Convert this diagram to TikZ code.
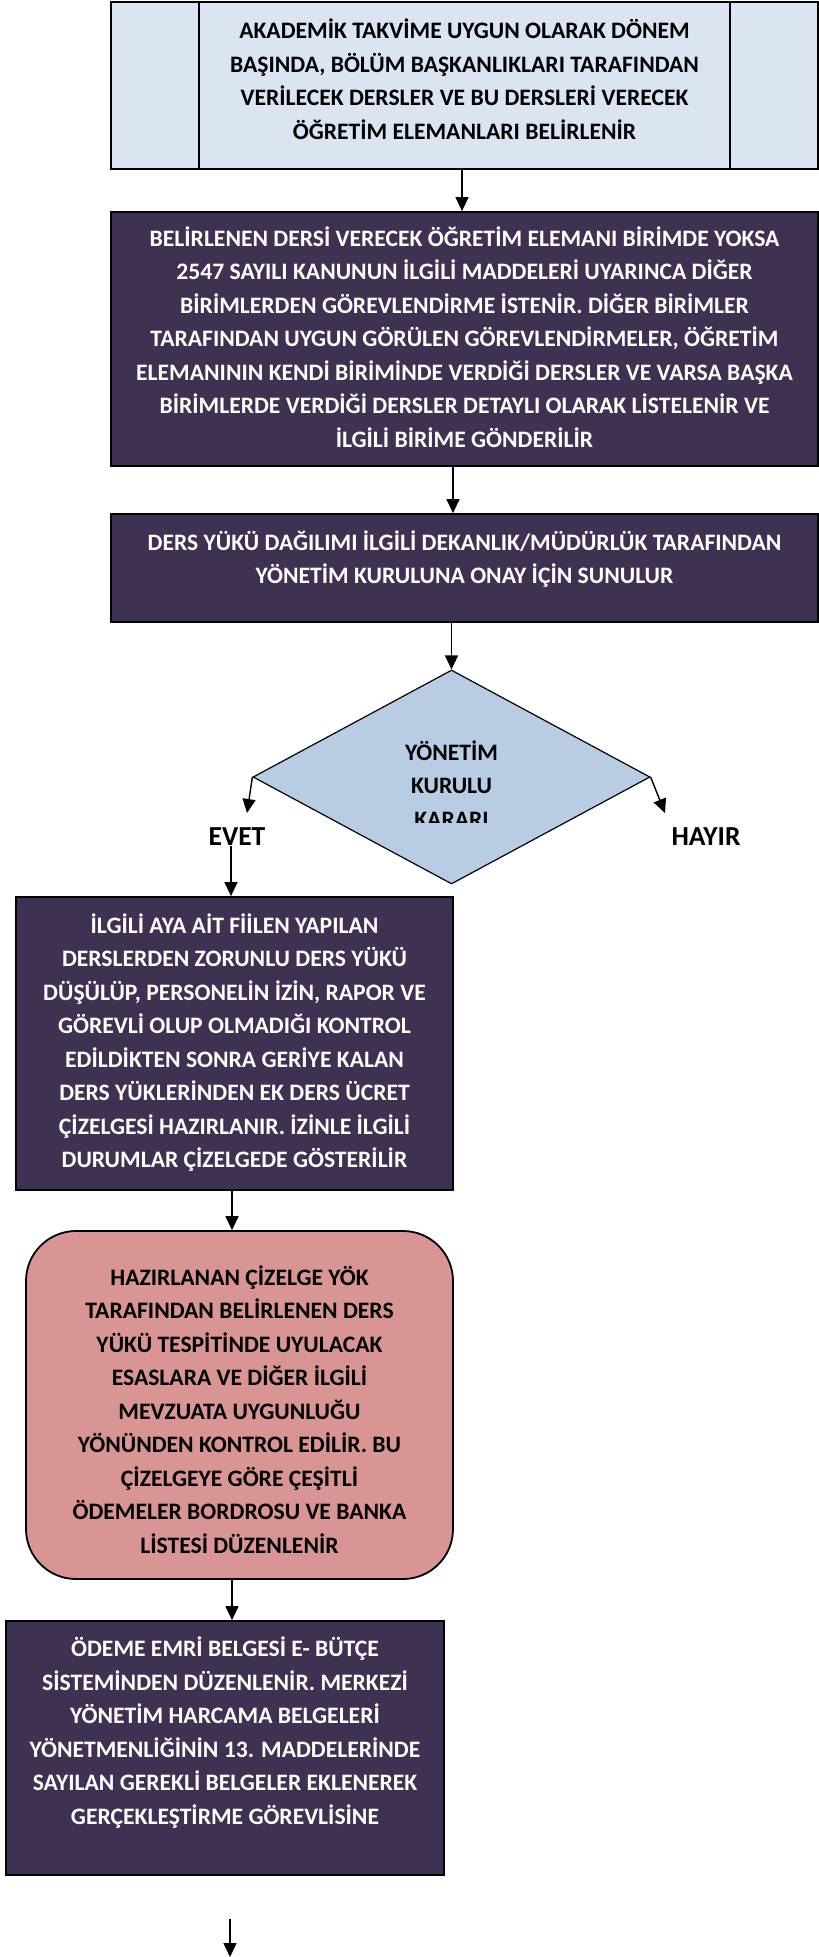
\documentclass[tikz,border=0pt]{standalone}
\usepackage{fontspec}
\setmainfont{Carlito}
\usetikzlibrary{arrows.meta,shapes.geometric}
\definecolor{plum}{HTML}{3F3151}
\definecolor{paleblue}{HTML}{DBE5F1}
\definecolor{midblue}{HTML}{B8CCE4}
\definecolor{rose}{HTML}{D99594}
\begin{document}
\begin{tikzpicture}[x=1pt,y=-1pt,
  box/.style={draw=black, line width=1.8pt, inner sep=0pt, rectangle},
  darkbox/.style={box, fill=plum},
  txt/.style={align=center, font=\fontsize{23.6pt}{33.5pt}\selectfont\bfseries, inner sep=0pt},
  wtxt/.style={txt, text=white},
  btxt/.style={txt, text=black},
  yesno/.style={font=\fontsize{27.5pt}{30pt}\selectfont\bfseries, inner sep=0pt},
  arr/.style={line width=1.4pt, -{Triangle[width=13pt,length=14pt]}},
]
\useasboundingbox (0,0) rectangle (819,1957);

% step 1: predefined process box
\node[box, fill=paleblue, minimum width=707pt, minimum height=167pt] (b1) at (464.5,85.5) {};
\draw[line width=1.5pt] ([xshift=89pt]b1.north west) -- ([xshift=89pt]b1.south west);
\draw[line width=1.5pt] ([xshift=-89pt]b1.north east) -- ([xshift=-89pt]b1.south east);
\node[btxt] (t1) at (464.5,79) {AKADEMİK TAKVİME UYGUN OLARAK DÖNEM\\BAŞINDA, BÖLÜM BAŞKANLIKLARI TARAFINDAN\\VERİLECEK DERSLER VE BU DERSLERİ VERECEK\\ÖĞRETİM ELEMANLARI BELİRLENİR};

% step 2
\node[darkbox, minimum width=707pt, minimum height=254pt] (b2) at (464.5,339) {};
\node[wtxt] (t2) at (464.5,337) {BELİRLENEN DERSİ VERECEK ÖĞRETİM ELEMANI BİRİMDE YOKSA\\2547 SAYILI KANUNUN İLGİLİ MADDELERİ UYARINCA DİĞER\\BİRİMLERDEN GÖREVLENDİRME İSTENİR. DİĞER BİRİMLER\\TARAFINDAN UYGUN GÖRÜLEN GÖREVLENDİRMELER, ÖĞRETİM\\ELEMANININ KENDİ BİRİMİNDE VERDİĞİ DERSLER VE VARSA BAŞKA\\BİRİMLERDE VERDİĞİ DERSLER DETAYLI OLARAK LİSTELENİR VE\\İLGİLİ BİRİME GÖNDERİLİR};

% step 3
\node[darkbox, minimum width=707pt, minimum height=108pt] (b3) at (464.5,568) {};
\node[wtxt] (t3) at (464.5,559) {DERS YÜKÜ DAĞILIMI İLGİLİ DEKANLIK/MÜDÜRLÜK TARAFINDAN\\YÖNETİM KURULUNA ONAY İÇİN SUNULUR};

% decision
\node[diamond, draw=black, fill=midblue, line width=1.2pt, minimum width=397pt, minimum height=214pt, inner sep=0pt] (dia) at (451.5,777) {};
\begin{scope}
  \clip (351,720) rectangle (551,822);
  \node[btxt] (dtxt) at (451.5,784) {YÖNETİM\\KURULU\\KARARI};
\end{scope}
\node[yesno] (evet) at (237,837) {EVET};
\node[yesno] (hayir) at (706,837) {HAYIR};
\coordinate (evetend) at (247,813);
\coordinate (hayirend) at (665,813);

% step 4
\node[darkbox, minimum width=437pt, minimum height=293pt] (b4) at (234.5,1043.5) {};
\node[wtxt] (t4) at (234.5,1042.5) {İLGİLİ AYA AİT FİİLEN YAPILAN\\DERSLERDEN ZORUNLU DERS YÜKÜ\\DÜŞÜLÜP, PERSONELİN İZİN, RAPOR VE\\GÖREVLİ OLUP OLMADIĞI KONTROL\\EDİLDİKTEN SONRA GERİYE KALAN\\DERS YÜKLERİNDEN EK DERS ÜCRET\\ÇİZELGESİ HAZIRLANIR. İZİNLE İLGİLİ\\DURUMLAR ÇİZELGEDE GÖSTERİLİR};

% step 5
\node[box, fill=rose, rounded corners=50pt, minimum width=427pt, minimum height=348pt] (b5) at (239.5,1405) {};
\node[btxt] (t5) at (239.5,1409.5) {HAZIRLANAN ÇİZELGE YÖK\\TARAFINDAN BELİRLENEN DERS\\YÜKÜ TESPİTİNDE UYULACAK\\ESASLARA VE DİĞER İLGİLİ\\MEVZUATA UYGUNLUĞU\\YÖNÜNDEN KONTROL EDİLİR. BU\\ÇİZELGEYE GÖRE ÇEŞİTLİ\\ÖDEMELER BORDROSU VE BANKA\\LİSTESİ DÜZENLENİR};

% step 6
\node[darkbox, minimum width=438pt, minimum height=254pt] (b6) at (225,1748) {};
\node[wtxt] (t6) at (225,1732.5) {ÖDEME EMRİ BELGESİ E- BÜTÇE\\SİSTEMİNDEN DÜZENLENİR. MERKEZİ\\YÖNETİM HARCAMA BELGELERİ\\YÖNETMENLİĞİNİN 13. MADDELERİNDE\\SAYILAN GEREKLİ BELGELER EKLENEREK\\GERÇEKLEŞTİRME GÖREVLİSİNE};

\coordinate (fa) at (230,1919);
\coordinate (fb) at (230,1957);

% connectors
\draw[arr] ([xshift=-2.5pt]b1.south) -- ([xshift=-2.5pt]b2.north);
\draw[arr] ([xshift=-11.5pt]b2.south) -- ([xshift=-11.5pt]b3.north);
\draw[arr] (b3.south -| dia.north) -- (dia.north);
\draw[arr] (dia.west) -- (evetend);
\draw[arr] (dia.east) -- (hayirend);
\draw[arr] ([xshift=-6pt]evet.south) -- ([xshift=-6pt]evet.south |- b4.north);
\draw[arr] ([xshift=-2.5pt]b4.south) -- ([xshift=-2.5pt]b4.south |- b5.north);
\draw[arr] ([xshift=-7.5pt]b5.south) -- ([xshift=-7.5pt]b5.south |- b6.north);
\draw[arr] (fa) -- (fb);
\end{tikzpicture}
\end{document}
